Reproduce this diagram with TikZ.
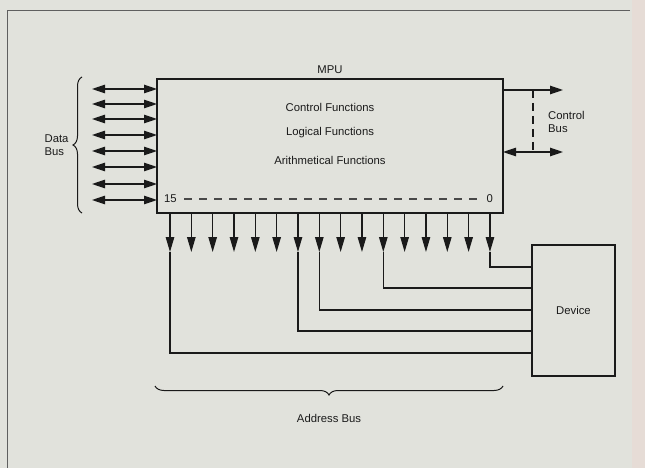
\documentclass[tikz,border=0pt]{standalone}
\usepackage{fontspec}
\setmainfont{Liberation Sans}
\usetikzlibrary{arrows.meta,decorations.pathreplacing,calc}
\definecolor{bg}{HTML}{E1E2DC}
\definecolor{strip}{HTML}{E6DCD6}
\definecolor{ink}{HTML}{1A1A1A}
\tikzset{
  box/.style={draw=ink, line width=1.4pt, inner sep=0pt, outer sep=0pt, anchor=north west},
  lbl/.style={font=\fontsize{11.3}{12.5}\selectfont, text=ink, inner sep=0pt},
  dbl/.style={draw=ink, line width=1.2pt, {Triangle[length=13pt,width=8.5pt]}-{Triangle[length=13pt,width=8.5pt]}},
  sgl/.style={draw=ink, line width=1.2pt, -{Triangle[length=13pt,width=8.5pt]}},
  addr/.style={draw=ink, line width=1.2pt, -{Triangle[length=15pt,width=8.5pt]}},
  wire/.style={draw=ink, line width=1.2pt},
  dsh/.style={draw=ink!80, line width=1.1pt, dash pattern=on 8pt off 7pt},
  brc/.style={draw=ink, line width=1pt, decorate, decoration={brace, amplitude=9pt}}
}
\begin{document}
\begin{tikzpicture}[x=1pt,y=-1pt]
\useasboundingbox (0,0) rectangle (645,468);
\fill[bg] (0,0) rectangle (645,468);
\fill[strip] (632,0) rectangle (645,468);
\draw[ink!70, line width=0.8pt] (630,10) -- (7,10) -- (7,468);

% MPU
\node[box, minimum width=346pt, minimum height=134pt] (mpu) at (157,79) {};
\node[lbl, anchor=south] (mputxt) at (330,74) {MPU};
\node[lbl] (cf) at (330,107) {Control Functions};
\node[lbl] (lf) at (330,133) {Logical Functions};
\node[lbl] (af) at (330,160) {Arithmetical Functions};
\node[lbl, anchor=west] (n15) at (164,199) {15};
\node[lbl, anchor=east] (n0) at (493,199) {0};
\coordinate (ds) at (184,199);
\coordinate (de) at (482,199);
\draw[dsh] (ds) -- (de);

% Data bus
\foreach \y [count=\k] in {89,104,119,135,151,167,184,200}{
  \coordinate (dl\k) at (92,\y);
  \draw[dbl] (dl\k) -- (dl\k -| mpu.west);
}
\draw[brc] (82,213) -- (82,77) node[midway, xshift=-13pt, lbl, anchor=east, align=left] (dbus) {Data\\[1pt]Bus};

% Control bus
\coordinate (c1) at (563,90);
\coordinate (c2) at (563,152);
\draw[sgl] (c1 -| mpu.east) -- (c1);
\draw[dbl] (c2 -| mpu.east) -- (c2);
\coordinate (cd1) at (533,90);
\coordinate (cd2) at (533,152);
\draw[draw=ink, line width=1.6pt, dash pattern=on 8pt off 5pt] (cd1) -- (cd2);
\node[lbl, anchor=west, align=left] (cbus) at (548,122) {Control\\[0pt]Bus};

% Device
\node[box, minimum width=83pt, minimum height=131pt] (dev) at (532,245) {};
\node[lbl] (devtxt) at (dev.center) {Device};

% Address lines
\foreach \i in {0,...,15}{
  \coordinate (a\i) at ({170+21.33*\i},213);
  \coordinate (t\i) at ({170+21.33*\i},252);
  \draw[addr] (a\i) -- (t\i);
}
\draw[wire] (t0) |- (dev.west |- 0,353);
\draw[wire] (t6) |- (dev.west |- 0,331);
\draw[wire] (t7) |- (dev.west |- 0,310);
\draw[wire] (t10) |- (dev.west |- 0,288);
\draw[wire] (t15) |- (dev.west |- 0,267);

% Address bus brace
\draw[brc] (503,386) -- (155,386) node[midway, yshift=-32pt, lbl, anchor=center] (abus) {Address Bus};
\end{tikzpicture}
\end{document}
